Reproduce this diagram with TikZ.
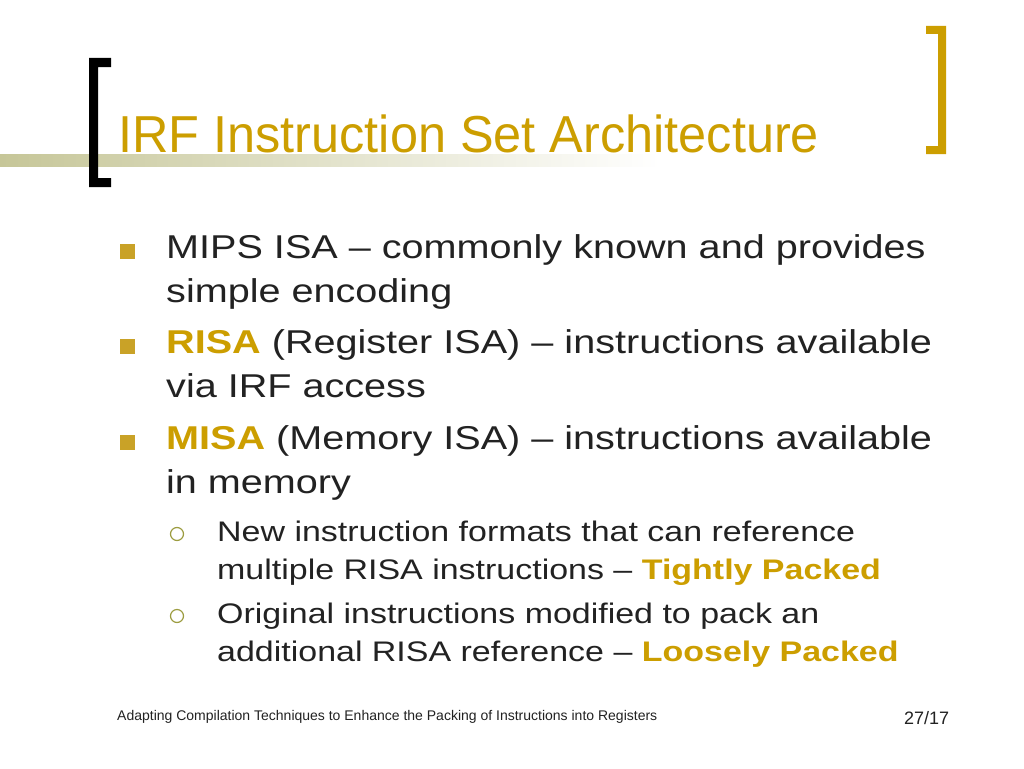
\documentclass[tikz,border=0pt]{standalone}
\usepackage{fontspec}
\setmainfont{Liberation Sans}
\newfontfamily\widefont[FakeStretch=1.2, Ligatures=TeX]{Liberation Sans}
\newfontfamily\titlefont[FakeStretch=0.97, Ligatures=TeX]{Liberation Sans}
\usepackage{tikz}
\usetikzlibrary{positioning}
\definecolor{gold}{HTML}{CC9E00}
\definecolor{bulletgold}{HTML}{C9A227}
\definecolor{olivebar}{HTML}{C6C698}
\definecolor{olivering}{HTML}{9C9C40}
\definecolor{bodytext}{HTML}{222222}
\newcommand{\hl}[1]{\textbf{\color{gold}#1}}

\begin{document}
\begin{tikzpicture}[x=1pt, y=-1pt,
  title/.style={anchor=base west, inner sep=0pt, text=gold, font=\titlefont\fontsize{52}{60}\selectfont},
  item/.style={anchor=base west, inner sep=0pt, text=bodytext, font=\widefont\fontsize{33}{38}\selectfont},
  subitem/.style={anchor=base west, inner sep=0pt, text=bodytext, font=\widefont\fontsize{28.3}{34}\selectfont},
  sqbullet/.style={rectangle, fill=bulletgold, minimum size=15pt, inner sep=0pt},
  ringbullet/.style={circle, draw=olivering, line width=1.2pt, minimum size=13pt, inner sep=0pt},
  footer/.style={anchor=base west, inner sep=0pt, text=bodytext}]
\useasboundingbox (0,0) rectangle (1024,768);
\fill[white] (0,0) rectangle (1024,768);
\shade[left color=olivebar, middle color=olivebar, right color=white] (0,154) rectangle (660,166);
\fill[black] (89,58) -- (111,58) -- (111,67) -- (98,67) -- (98,178) -- (111,178) -- (111,187) -- (89,187) -- cycle;
\fill[gold] (926,26) -- (946,26) -- (946,154) -- (926,154) -- (926,146) -- (938,146) -- (938,34) -- (926,34) -- cycle;
\node[title] (ttl) at (118,152) {IRF Instruction Set Architecture};

\node[sqbullet] (b1) at (127,251) {};
\node[item] (l1) at (166,258) {MIPS ISA – commonly known and provides};
\node[item] (l2) at (166,302) {simple encoding};
\node[sqbullet] (b2) at (127,346) {};
\node[item] (l3) at (166,353) {\hl{RISA} (Register ISA) – instructions available};
\node[item] (l4) at (166,397) {via IRF access};
\node[sqbullet] (b3) at (127,442) {};
\node[item] (l5) at (166,449) {\hl{MISA} (Memory ISA) – instructions available};
\node[item] (l6) at (166,493) {in memory};

\node[ringbullet] (c1) at (177,534) {};
\node[subitem] (s1) at (217,541) {New instruction formats that can reference};
\node[subitem] (s2) at (217,579) {multiple RISA instructions – \hl{Tightly Packed}};
\node[ringbullet] (c2) at (177,616) {};
\node[subitem] (s3) at (217,623) {Original instructions modified to pack an};
\node[subitem] (s4) at (217,661) {additional RISA reference – \hl{Loosely Packed}};

\node[footer, font=\fontsize{14}{17}\selectfont] (ft) at (117,720) {Adapting Compilation Techniques to Enhance the Packing of Instructions into Registers};
\node[footer, font=\fontsize{18}{22}\selectfont] (pg) at (904,724) {27/17};
\end{tikzpicture}
\end{document}
